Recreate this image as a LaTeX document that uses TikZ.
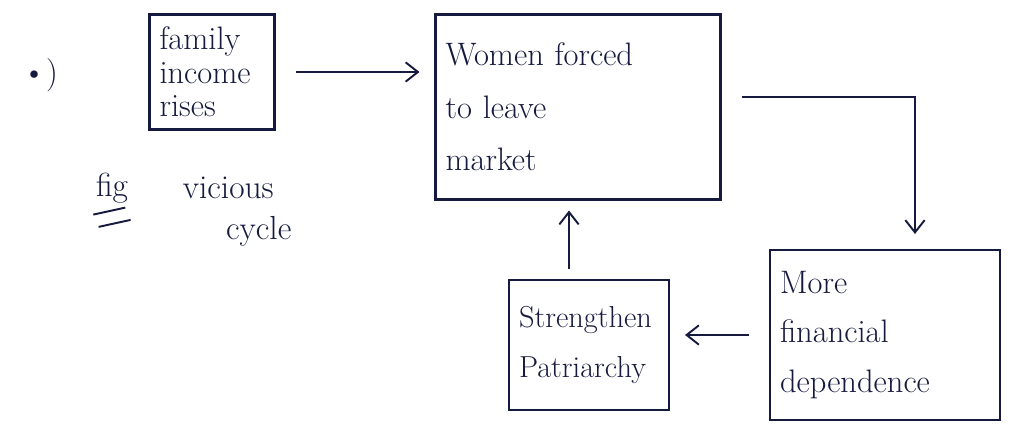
\documentclass[tikz,border=0pt]{standalone}
\usetikzlibrary{arrows.meta, positioning}
\definecolor{ink}{RGB}{22,26,62}
\tikzset{
  stagebox/.style={draw=ink, line width=1.2pt, text=ink, align=left, inner sep=0.2cm},
  flow/.style={draw=ink, line width=1.1pt, -{Straight Barb[length=7pt,width=11pt]},
               shorten <=0.4cm, shorten >=0.3cm},
  note/.style={text=ink, font=\fontsize{19}{22}\selectfont},
}
\begin{document}
\begin{tikzpicture}[x=0.02cm, y=-0.02cm]
  \useasboundingbox (0,0) rectangle (1012,432);

  % Boxes of the cycle
  \node[stagebox, text width=2.1cm, minimum height=2.3cm,
        font=\fontsize{18.5}{19}\selectfont] (income) at (212,72)
        {family\\ income\\ rises};
  \node[stagebox, text width=5.3cm, minimum height=3.7cm,
        font=\fontsize{18.5}{30}\selectfont] (women) at (578,107)
        {Women forced\\ to leave\\ market};
  \node[stagebox, text width=4.2cm, minimum height=3.4cm,
        font=\fontsize{18.5}{28}\selectfont] (depend) at (885,335)
        {More\\ financial\\ dependence};
  \node[stagebox, text width=2.8cm, minimum height=2.6cm,
        font=\fontsize{17.28}{28}\selectfont] (patri) at (589,345)
        {Strengthen\\ Patriarchy};

  % Arrows round the cycle
  \draw[flow] (income.east) -- (income.east -| women.west);
  \draw[flow] ([yshift=0.2cm]women.east) -| ([xshift=0.6cm]depend.north);
  \draw[flow] (depend.west) -- (depend.west -| patri.east);
  \draw[flow, shorten <=0.2cm, shorten >=0.2cm]
    ([xshift=-0.4cm]patri.north) -- ([xshift=-0.4cm]patri.north |- women.south);

  % Side notes
  \node[note] (mark) at (40,75) {\textbullet)};
  \node[note] (fig) at (112,188) {fig};
  \draw[ink, line width=1.1pt] ([xshift=2pt,yshift=-3pt]fig.south west) -- ++(32,-7);
  \draw[ink, line width=1.1pt] ([xshift=5pt,yshift=-10pt]fig.south west) -- ++(32,-7);
  \node[note, right=0.85cm of fig] (vicious) {vicious};
  \node[note, below right=0.1cm and -1.2cm of vicious] (cycle) {cycle};
\end{tikzpicture}
\end{document}
